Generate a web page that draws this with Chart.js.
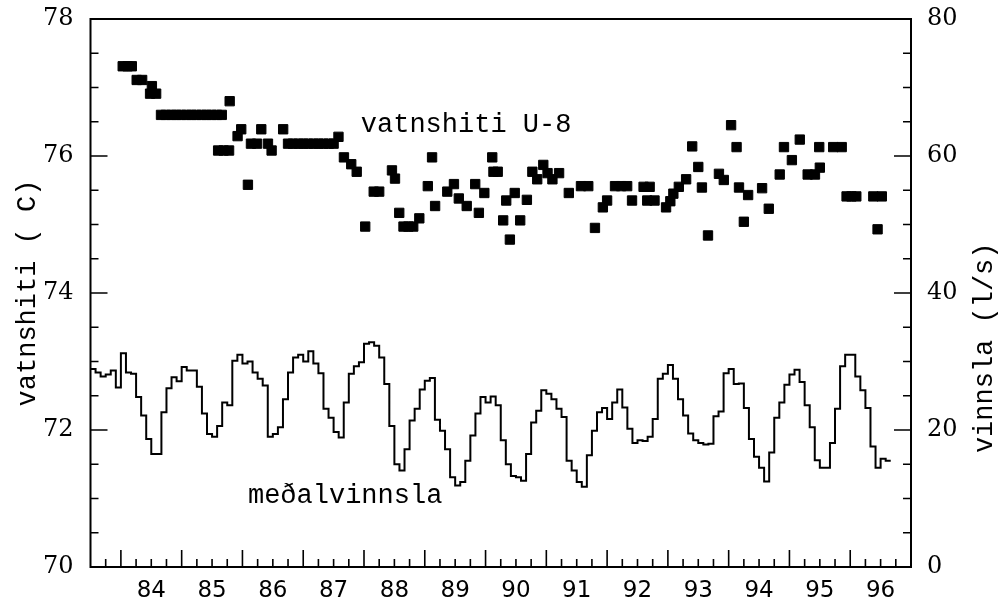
<!DOCTYPE html>
<html>
<head>
<meta charset="utf-8">
<script src="https://cdn.jsdelivr.net/npm/chart.js@4/dist/chart.umd.min.js"></script>
<style>
  html, body { margin: 0; padding: 0; background: #fff; }
  #wrap { width: 1001px; height: 606px; }
</style>
</head>
<body>
<div id="wrap"><canvas id="chart" width="1001" height="606"></canvas></div>
<script>
// Vatnshiti U-8 (C), readings at decimal years (84.5 = mid 1984)
const tempYears = [
  84.03, 84.11, 84.18, 84.26, 84.35, 84.48, 84.51, 84.58,
  84.66, 84.74, 84.83, 84.91, 84.99, 85.08, 85.16, 85.24, 85.33, 85.41, 85.49, 85.58, 85.66,
  85.60, 85.69, 85.78, 85.79, 85.92, 85.98, 86.09, 86.14, 86.24, 86.31, 86.42, 86.48, 86.67,
  86.75, 86.83, 86.92, 87.00, 87.08, 87.17, 87.25, 87.33, 87.42, 87.50,
  87.58, 87.67, 87.79, 87.88, 88.02, 88.16, 88.25, 88.46, 88.51, 88.58,
  88.65, 88.73, 88.81, 88.91, 89.05, 89.12, 89.17, 89.37, 89.48, 89.56, 89.69, 89.83, 89.89, 89.98,
  90.11, 90.13, 90.20, 90.29, 90.34, 90.40, 90.48, 90.57, 90.68, 90.77, 90.85, 90.95,
  91.02, 91.10, 91.21, 91.37, 91.57, 91.69, 91.80, 91.93, 92.00, 92.13, 92.23, 92.33, 92.41,
  92.60, 92.66, 92.70, 92.78, 92.97, 93.04, 93.09, 93.18, 93.30, 93.40, 93.50, 93.56, 93.66,
  93.84, 93.92, 94.04, 94.13, 94.17, 94.25, 94.32, 94.55, 94.66, 94.84, 94.91,
  95.04, 95.17, 95.30, 95.42, 95.49, 95.50, 95.72, 95.86, 95.94, 96.02, 96.10,
  96.38, 96.45, 96.52
];
const tempValues = [
  77.31, 77.31, 77.31, 77.11, 77.11, 76.91, 77.02, 76.91,
  76.60, 76.60, 76.60, 76.60, 76.60, 76.60, 76.60, 76.60, 76.60, 76.60, 76.60, 76.60, 76.60,
  76.08, 76.08, 76.08, 76.80, 76.29, 76.39, 75.58, 76.18, 76.18, 76.39, 76.18, 76.08, 76.39,
  76.18, 76.18, 76.18, 76.18, 76.18, 76.18, 76.18, 76.18, 76.18, 76.18,
  76.28, 75.98, 75.88, 75.77, 74.97, 75.48, 75.48, 75.79, 75.67, 75.17,
  74.97, 74.97, 74.97, 75.09, 75.56, 75.98, 75.27, 75.48, 75.59, 75.38, 75.27, 75.59, 75.17, 75.46,
  75.98, 75.77, 75.77, 75.06, 75.35, 74.78, 75.46, 75.06, 75.36, 75.77, 75.66, 75.87,
  75.75, 75.66, 75.75, 75.46, 75.56, 75.56, 74.95, 75.25, 75.35, 75.56, 75.56, 75.56, 75.35,
  75.55, 75.35, 75.55, 75.35, 75.25, 75.34, 75.45, 75.55, 75.66, 76.14, 75.84, 75.54, 74.84,
  75.74, 75.65, 76.45, 76.13, 75.54, 75.04, 75.43, 75.53, 75.23, 75.73, 76.13,
  75.94, 76.24, 75.73, 75.73, 76.13, 75.83, 76.13, 76.13, 75.41, 75.41, 75.41,
  75.41, 74.93, 75.41
];

// Medalvinnsla (l/s), one value per month, first month = July 1983
const flowStartYear = 83.5;
const flowMonthly = [
  28.9, 28.4, 27.8, 28.1, 28.7, 26.2, 31.2, 28.4, 28.2, 24.8, 22.1, 18.7,
  16.5, 16.5, 22.6, 26.1, 27.7, 27.1, 29.2, 28.7, 28.7, 26.3, 22.4, 19.4,
  19.0, 20.6, 24.0, 23.6, 30.1, 31.0, 29.7, 30.0, 28.4, 27.5, 26.5, 19.0,
  19.4, 20.4, 24.5, 28.4, 30.6, 31.0, 30.0, 31.5, 29.7, 28.3, 23.1, 21.8,
  19.7, 18.9, 24.0, 28.2, 29.3, 29.9, 32.6, 32.8, 32.3, 30.6, 26.7, 20.6,
  15.0, 14.1, 17.2, 21.4, 23.1, 25.9, 27.2, 27.6, 21.5, 19.9, 17.2, 13.1,
  11.9, 12.4, 15.5, 19.2, 22.4, 24.8, 24.0, 24.9, 23.6, 18.5, 15.0, 13.3,
  13.1, 12.6, 16.5, 21.1, 22.8, 25.8, 25.3, 24.5, 23.1, 21.9, 15.5, 14.1,
  12.4, 11.7, 16.3, 19.9, 22.6, 23.2, 21.6, 24.0, 25.9, 23.3, 20.2, 18.1,
  18.5, 18.4, 19.0, 21.6, 27.5, 28.2, 29.5, 27.5, 24.5, 22.1, 19.5, 18.5,
  18.1, 17.9, 18.0, 22.0, 22.7, 28.3, 28.9, 26.7, 26.8, 23.2, 18.7, 16.1,
  14.5, 12.5, 16.7, 21.8, 24.0, 26.6, 28.1, 28.8, 27.0, 23.6, 20.4, 15.6,
  14.5, 14.5, 18.1, 23.1, 29.3, 31.0, 31.0, 27.8, 25.8, 23.2, 17.6, 14.5,
  15.8, 15.5
];

// x axis: labels sit in the middle of each year
const yearLabels = ['84', '85', '86', '87', '88', '89', '90', '91', '92', '93', '94', '95', '96'];
const yearLabelPos = [84.5, 85.5, 86.5, 87.5, 88.5, 89.5, 90.5, 91.5, 92.5, 93.5, 94.5, 95.5, 96.5];
const tempTicks = [70, 72, 74, 76, 78];
const flowTicks = [0, 20, 40, 60, 80];

// build points
const tempPoints = tempYears.map((x, i) => ({ x, y: tempValues[i] }));
const flowPoints = flowMonthly.map((v, i) => ({ x: flowStartYear + i / 12, y: v }));
// close the last month's step
flowPoints.push({ x: flowStartYear + flowMonthly.length / 12, y: flowMonthly[flowMonthly.length - 1] });

const TEXT_FONT = '27px "Liberation Mono", "DejaVu Sans Mono", monospace';

// frame, inward tick marks, axis titles and curve labels
const frameTicks = {
  id: 'frameTicks',
  afterDraw(chart) {
    const { ctx, chartArea: a, scales } = chart;
    ctx.save();
    ctx.strokeStyle = '#000';
    ctx.lineWidth = 2;
    ctx.strokeRect(a.left, a.top, a.right - a.left, a.bottom - a.top);

    ctx.lineWidth = 1.6;
    ctx.beginPath();
    // x: quarter years, long tick at year start
    for (let q = 335; q <= 387; q++) {
      const px = scales.x.getPixelForValue(q / 4);
      const len = q % 4 === 0 ? 17 : 8;
      ctx.moveTo(px, a.bottom);
      ctx.lineTo(px, a.bottom - len);
    }
    // left: every 0.5 C
    for (let k = 1; k < 16; k++) {
      const py = scales.y.getPixelForValue(70 + k * 0.5);
      const len = k % 4 === 0 ? 17 : 8;
      ctx.moveTo(a.left, py);
      ctx.lineTo(a.left + len, py);
    }
    // right: every 5 l/s
    for (let k = 1; k < 16; k++) {
      const py = scales.y2.getPixelForValue(k * 5);
      const len = k % 4 === 0 ? 17 : 8;
      ctx.moveTo(a.right, py);
      ctx.lineTo(a.right - len, py);
    }
    ctx.stroke();

    ctx.fillStyle = '#000';
    ctx.font = TEXT_FONT;
    ctx.textAlign = 'center';
    ctx.textBaseline = 'middle';

    // axis titles, both reading upwards
    ctx.save();
    ctx.translate(28, (a.top + a.bottom) / 2);
    ctx.rotate(-Math.PI / 2);
    ctx.fillText('vatnshiti ( C)', 0, 0);
    ctx.restore();

    ctx.save();
    ctx.translate(985, scales.y2.getPixelForValue(32));
    ctx.rotate(-Math.PI / 2);
    ctx.fillText('vinnsla (l/s)', 0, 0);
    ctx.restore();

    // curve labels
    ctx.fillText('vatnshiti U-8', scales.x.getPixelForValue(89.68), scales.y.getPixelForValue(76.45));
    ctx.fillText('meðalvinnsla', scales.x.getPixelForValue(87.69), scales.y.getPixelForValue(71.04));
    ctx.restore();
  }
};

function fixWidth(w) {
  return s => { s.width = w; s.paddingTop = 0; s.paddingBottom = 0; };
}

new Chart(document.getElementById('chart'), {
  type: 'scatter',
  data: {
    datasets: [
      {
        label: 'vatnshiti U-8',
        data: tempPoints,
        yAxisID: 'y',
        pointStyle: 'rect',
        pointRadius: 6.6,
        pointHoverRadius: 6.6,
        backgroundColor: '#000',
        borderColor: '#000',
        borderWidth: 1,
      },
      {
        type: 'line',
        label: 'meðalvinnsla',
        data: flowPoints,
        yAxisID: 'y2',
        stepped: 'before',
        borderColor: '#000',
        borderWidth: 2,
        pointRadius: 0,
        fill: false,
      },
    ],
  },
  options: {
    responsive: false,
    animation: false,
    devicePixelRatio: 1,
    layout: { padding: { top: 19, left: 0, right: 0, bottom: 0 } },
    plugins: {
      legend: { display: false },
      tooltip: { enabled: false },
    },
    scales: {
      x: {
        type: 'linear',
        min: 83.5,
        max: 97,
        grid: { display: false },
        border: { display: false },
        afterBuildTicks: s => { s.ticks = yearLabelPos.map(v => ({ value: v })); },
        afterFit: s => { s.height = 39; s.paddingLeft = 0; s.paddingRight = 0; },
        ticks: {
          callback: (v, i) => yearLabels[i],
          autoSkip: false,
          maxRotation: 0,
          padding: 2,
          color: '#000',
          font: { family: '"DejaVu Sans", sans-serif', size: 23 },
        },
      },
      y: {
        position: 'left',
        min: 70,
        max: 78,
        grid: { display: false },
        border: { display: false },
        afterBuildTicks: s => { s.ticks = tempTicks.map(v => ({ value: v })); },
        afterFit: fixWidth(90.5),
        ticks: {
          padding: 9,
          color: '#000',
          font: { family: '"DejaVu Serif", serif', size: 24 },
        },
      },
      y2: {
        position: 'right',
        min: 0,
        max: 80,
        grid: { display: false },
        border: { display: false },
        afterBuildTicks: s => { s.ticks = flowTicks.map(v => ({ value: v })); },
        afterFit: fixWidth(90),
        ticks: {
          padding: 8,
          color: '#000',
          font: { family: '"DejaVu Serif", serif', size: 24 },
        },
      },
    },
  },
  plugins: [frameTicks],
});
</script>
</body>
</html>
